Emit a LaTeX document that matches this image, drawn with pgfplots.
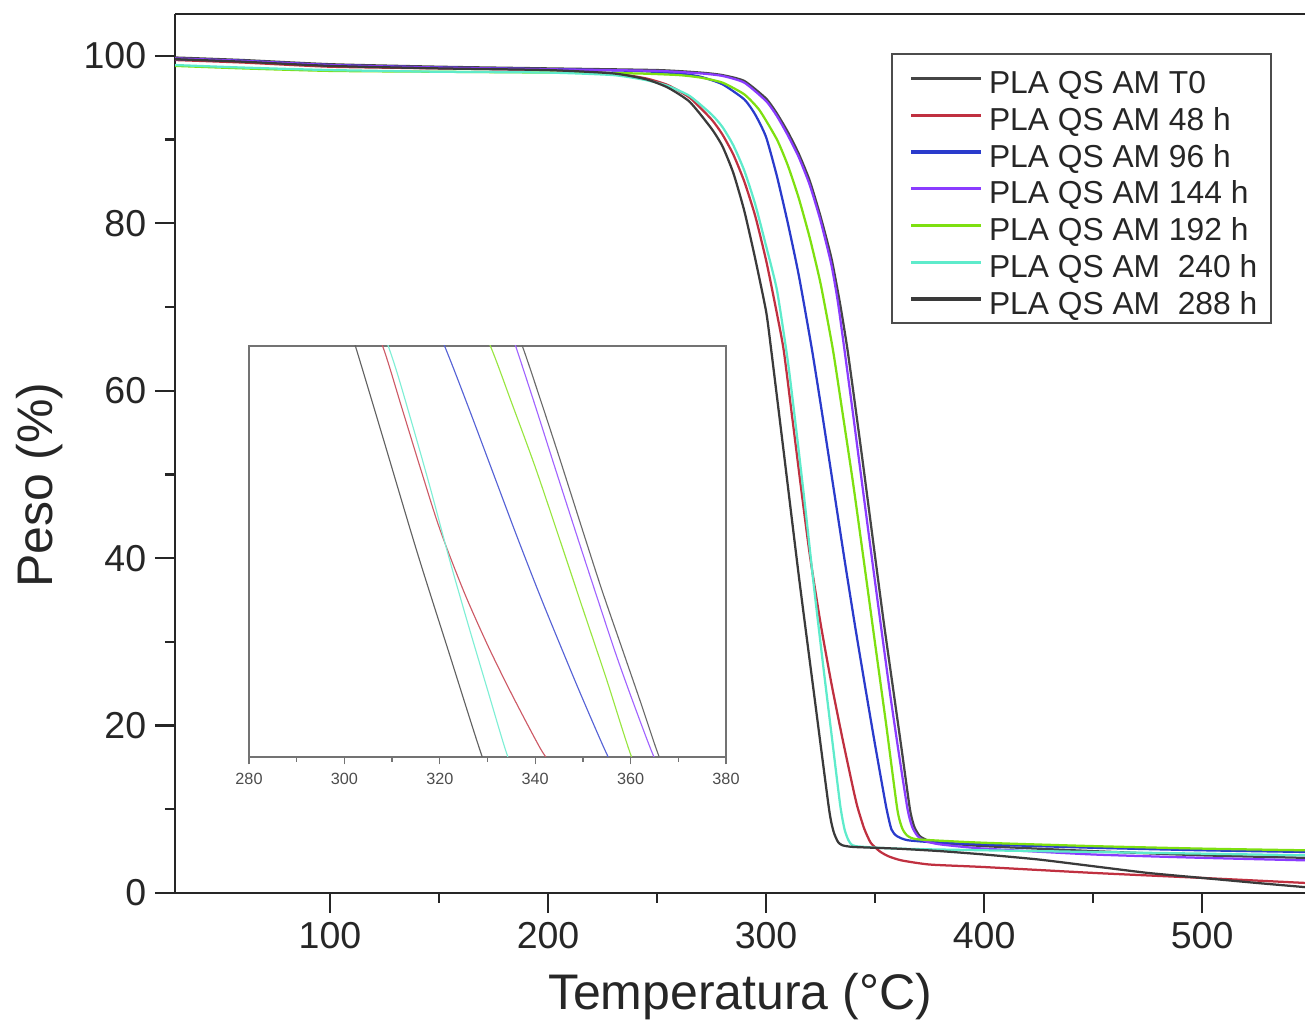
\documentclass[border=0pt]{standalone}
\usepackage{pgfplots}
\pgfplotsset{compat=1.18}
\usepackage{pgfplotstable}
\usepackage{fontspec}
\setmainfont{Liberation Sans}

\definecolor{cT0}{HTML}{454545}
\definecolor{cA}{HTML}{C03040}
\definecolor{cB}{HTML}{2A3BCC}
\definecolor{cC}{HTML}{8A3CFF}
\definecolor{cD}{HTML}{7EE010}
\definecolor{cE}{HTML}{5EEBCB}
\definecolor{cF}{HTML}{3A3A3A}

\pgfplotstableread{
T W
29 99.8
60 99.5
100 99.0
150 98.7
200 98.5
250 98.3
270 98.0
280 97.7
290 97.0
300 94.9
305 93.1
310 90.9
315 88.3
320 85.1
325 80.8
330 75.8
334 70.3
337.3 65.0
341 58.0
345 50.2
350.2 39.8
354 32.3
358 24.9
362 17.5
366 10.0
368 7.9
370.5 6.8
374 6.3
380 6.0
400 5.6
450 5.0
500 4.5
547.2 4.2
}\dT

\pgfplotstableread{
T W
29 99.5
60 99.2
100 98.7
150 98.5
200 98.3
230 97.9
245 97.3
255 96.5
265 95.0
275 92.4
280 90.6
285 88.2
290 85.0
295 80.9
300 75.6
304 70.5
308 65.0
312 56.8
316 48.5
320 40.5
325 32.2
330 25.0
335 18.5
340 12.4
342 10.2
345 7.7
348 6.0
352 5.0
356 4.4
362 3.9
375 3.4
400 3.1
450 2.4
500 1.8
547.2 1.2
}\dA

\pgfplotstableread{
T W
29 99.6
60 99.4
100 98.9
150 98.6
200 98.4
240 98.2
260 97.9
270 97.5
280 96.6
290 94.8
295 93.0
300 90.3
305 85.6
310 80.0
315 73.8
321 65.0
326 56.8
331 48.3
336 39.8
341 31.6
346 23.8
350 17.7
355 10.4
357.5 7.6
360 6.8
365 6.3
380 6.0
400 5.8
450 5.4
500 5.1
547.2 4.9
}\dB

\pgfplotstableread{
T W
29 99.7
60 99.4
100 98.9
150 98.6
200 98.4
250 98.2
270 97.9
280 97.6
290 96.8
300 94.6
305 92.8
310 90.5
315 87.9
320 84.6
325 80.3
330 75.0
333 70.5
335.9 65.0
340 57.0
344 49.0
348.8 39.5
353 31.3
357 23.6
361 16.5
364.9 10.0
367 7.9
369.5 6.8
373 6.2
380 5.8
400 5.3
450 4.6
500 4.2
547.2 3.9
}\dC

\pgfplotstableread{
T W
29 98.8
60 98.5
100 98.2
150 98.1
200 98.0
240 97.9
260 97.7
270 97.4
280 96.8
290 95.4
297 93.5
305 90.0
310 86.9
315 83.0
320 78.3
325 72.8
330.6 65.0
335 57.5
340 48.8
345.3 38.8
350 29.8
355 20.3
360.2 10.0
362.5 7.7
365 6.8
370 6.4
400 6.0
450 5.6
500 5.3
547.2 5.1
}\dD

\pgfplotstableread{
T W
29 98.9
60 98.6
100 98.3
150 98.1
200 98.0
230 97.7
245 97.1
255 96.4
265 95.2
275 93.0
280 91.5
285 89.3
290 86.3
295 82.3
300 77.3
305 72.0
310 63.5
314 55.0
318 46.0
322 36.5
326 27.6
330 19.0
334 10.5
336 7.6
338 6.2
341 5.6
360 5.3
400 5.1
450 4.9
500 4.7
547.2 4.5
}\dE

\pgfplotstableread{
T W
29 99.6
60 99.3
100 98.8
150 98.5
200 98.3
230 97.9
245 97.2
255 96.2
265 94.5
275 91.3
280 89.2
285 86.0
290 81.5
295 75.8
300 69.5
302.3 65.0
308 52.9
315.2 37.5
322 23.8
328.9 10.0
331 7.3
333 6.1
335 5.7
340 5.5
360 5.3
380 5.0
400 4.6
425 4.0
450 3.2
475 2.4
500 1.8
525 1.2
547.2 0.7
}\dF

\begin{document}
\begin{tikzpicture}
\path[use as bounding box] (-70pt,-51.2pt) rectangle (452pt,357.2pt);
\begin{axis}[
  at={(0pt,0pt)}, anchor=south west,
  scale only axis, width=452pt, height=351.6pt,
  xmin=28.9, xmax=547.2, ymin=0, ymax=105,
  axis x line*=box, axis y line*=left,
  x axis line style={-}, y axis line style={-},
  axis line style={line width=0.9pt, black!85},
  xtick={100,200,300,400,500}, minor x tick num=1,
  ytick={0,20,40,60,80,100}, minor y tick num=1,
  xtick pos=bottom, ytick pos=left,
  tick align=outside,
  major tick length=8pt, minor tick length=4pt,
  tick style={line width=0.9pt, black!85},
  /pgf/number format/assume math mode=true,
  tick label style={font=\fontsize{15}{18}\selectfont, black!85},
  xlabel={Temperatura (°C)}, ylabel={Peso (\%)},
  xlabel style={font=\fontsize{20}{24}\selectfont, black!85, at={(axis description cs:0.5,0)}, anchor=base, yshift=-46.8pt},
  ylabel style={font=\fontsize{20}{24}\selectfont, black!85, at={(axis description cs:-0.1195,0.464)}, anchor=center},
  legend style={at={(axis description cs:0.9708,0.9556)}, anchor=north east,
    draw=black!70, line width=0.8pt, fill=white,
    font=\fontsize{12.7}{14.7}\selectfont,
    inner xsep=4pt, inner ysep=2.4pt, row sep=0pt,
    nodes={text height=12.2pt, text depth=0pt, inner ysep=1.25pt, inner xsep=1.5pt, text=black!85},
    cells={anchor=west}},
  legend image code/.code={\path (0pt,0pt) (32.5pt,0pt); \draw[#1, line width=1.3pt] (3.3pt,0pt) -- (31.3pt,0pt);},
  every axis plot/.append style={line width=0.9pt, smooth, tension=0.35},
]
\addplot[cT0] table[x=T,y=W] {\dT};
\addlegendentry{PLA QS AM T0}
\addplot[cA] table[x=T,y=W] {\dA};
\addlegendentry{PLA QS AM 48 h}
\addplot[cB] table[x=T,y=W] {\dB};
\addlegendentry{PLA QS AM 96 h}
\addplot[cC] table[x=T,y=W] {\dC};
\addlegendentry{PLA QS AM 144 h}
\addplot[cD] table[x=T,y=W] {\dD};
\addlegendentry{PLA QS AM 192 h}
\addplot[cE] table[x=T,y=W] {\dE};
\addlegendentry{PLA QS AM\ \ 240 h}
\addplot[cF] table[x=T,y=W] {\dF};
\addlegendentry{PLA QS AM\ \ 288 h}
\end{axis}
\begin{axis}[
  at={(29.6pt,54.4pt)}, anchor=south west,
  scale only axis, width=190.8pt, height=164.4pt,
  xmin=280, xmax=380, ymin=10, ymax=65,
  xtick={280,300,320,340,360,380}, minor x tick num=1,
  ytick=\empty, xtick pos=bottom, tick align=outside,
  major tick length=3pt, minor tick length=2pt,
  axis line style={line width=0.6pt, black!55},
  tick style={line width=0.5pt, black!55},
  /pgf/number format/assume math mode=true,
  /pgf/number format/1000 sep={},
  x tick label style={font=\fontsize{6.5}{7}\selectfont, black!70},
  axis background/.style={fill=white},
  every axis plot/.append style={line width=0.45pt, smooth, tension=0.5},
]
\addplot[cT0!80!white] table[x=T,y=W] {\dT};
\addplot[cA!80!white] table[x=T,y=W] {\dA};
\addplot[cB!80!white] table[x=T,y=W] {\dB};
\addplot[cC!80!white] table[x=T,y=W] {\dC};
\addplot[cD!80!white] table[x=T,y=W] {\dD};
\addplot[cE!80!white] table[x=T,y=W] {\dE};
\addplot[cF!80!white] table[x=T,y=W] {\dF};
\end{axis}
\end{tikzpicture}
\end{document}
